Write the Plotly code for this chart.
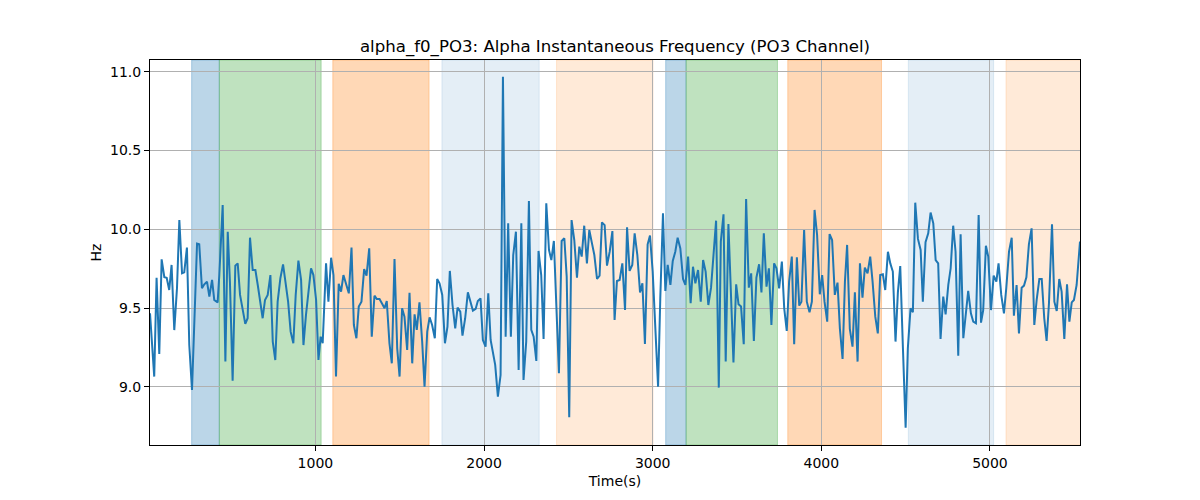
import plotly.graph_objects as go

# ---- data ----
times = [
    19, 44, 58, 74, 88, 104, 118, 124, 133, 147, 163, 179, 193, 209, 222, 238, 252, 268, 282, 298,
    311, 327, 341, 357, 371, 387, 400, 420, 430, 450, 466, 480, 493, 509, 525, 539, 553, 569, 584, 598,
    612, 628, 644, 658, 671, 687, 701, 717, 733, 747, 762, 776, 792, 808, 822, 838, 853, 869, 883, 899,
    915, 929, 944, 958, 974, 988, 1004, 1018, 1031, 1043, 1063, 1077, 1093, 1107, 1122, 1138,
    1152, 1166, 1182, 1198, 1214, 1228, 1243, 1257, 1273, 1289, 1303, 1319, 1334, 1350, 1364, 1380, 1394, 1410, 1423, 1439,
    1453, 1469, 1485, 1499, 1514, 1528, 1544, 1558, 1574, 1588, 1601, 1617, 1633, 1647, 1663, 1677, 1692, 1708, 1722, 1736,
    1752, 1768, 1783, 1797, 1813, 1829, 1843, 1859, 1872, 1888, 1904, 1918, 1934, 1950, 1963, 1979, 1993, 2009, 2025, 2039,
    2052, 2066, 2082, 2098, 2112, 2128, 2143, 2159, 2173, 2189, 2205, 2221, 2234, 2250, 2266,
    2280, 2294, 2310, 2323, 2339, 2353, 2369, 2385, 2399, 2414, 2428, 2444, 2460, 2476, 2490, 2505, 2519, 2535, 2551, 2565,
    2579, 2594, 2610, 2624, 2640, 2654, 2670, 2685, 2699, 2715, 2729, 2745, 2761, 2774, 2788, 2804, 2820, 2836, 2848, 2863,
    2879, 2893, 2909, 2925, 2939, 2954, 2970, 2984, 3000, 3016, 3032, 3045, 3061, 3075, 3089, 3105, 3119, 3134, 3148, 3164,
    3180, 3194, 3210, 3225, 3239, 3253, 3269, 3285, 3299, 3314, 3330, 3346, 3360, 3376, 3392,
    3404, 3420, 3433, 3449, 3463, 3479, 3495, 3509, 3524, 3540, 3554, 3570, 3584, 3600, 3615, 3631, 3645, 3659, 3675, 3689,
    3704, 3720, 3734, 3750, 3766, 3780, 3795, 3809, 3825, 3839, 3855, 3869, 3882, 3898, 3914, 3930, 3944, 3960, 3975, 3991,
    4005, 4019, 4035, 4049, 4064, 4080, 4096, 4110, 4126, 4140, 4153, 4169, 4185, 4199, 4215, 4229, 4244, 4258, 4274, 4290,
    4304, 4320, 4335, 4349, 4365, 4379, 4395, 4409, 4424, 4440, 4454, 4468, 4484, 4500, 4513,
    4529, 4543, 4557, 4573, 4589, 4602, 4618, 4634, 4648, 4664, 4678, 4693, 4707, 4723, 4737, 4753, 4767, 4782, 4796, 4812,
    4826, 4842, 4858, 4871, 4887, 4901, 4917, 4933, 4947, 4960, 4976, 4990, 5006, 5022, 5038, 5051, 5067, 5083, 5097, 5113,
    5129, 5142, 5158, 5172, 5188, 5202, 5216, 5231, 5247, 5263, 5277, 5293, 5307, 5322, 5336, 5350, 5368, 5382, 5396, 5411,
    5425, 5441, 5457, 5471, 5485, 5498, 5514, 5534,
]

freq_hz = [
    9.467, 9.066, 9.693, 9.209, 9.810, 9.696, 9.693, 9.658, 9.615, 9.774, 9.361, 9.626, 10.059, 9.721, 9.727, 9.884, 9.266, 8.981, 9.414, 9.909,
    9.905, 9.626, 9.651, 9.668, 9.573, 9.679, 9.552, 9.537, 9.710, 10.154, 9.161, 9.985, 9.668, 9.040, 9.770, 9.784, 9.584, 9.478, 9.400, 9.436,
    9.947, 9.742, 9.742, 9.647, 9.562, 9.436, 9.552, 9.584, 9.710, 9.288, 9.171, 9.541, 9.689, 9.778, 9.668, 9.541, 9.351, 9.277, 9.584, 9.801,
    9.679, 9.266, 9.457, 9.615, 9.753, 9.710, 9.552, 9.171, 9.319, 9.277, 9.784, 9.541, 9.820, 9.710, 9.066, 9.655,
    9.605, 9.710, 9.647, 9.594, 9.884, 9.393, 9.309, 9.510, 9.541, 9.748, 9.706, 9.879, 9.319, 9.579, 9.558, 9.558, 9.531, 9.499, 9.545, 9.277,
    9.150, 9.812, 9.245, 9.066, 9.499, 9.446, 9.235, 9.598, 9.150, 9.461, 9.362, 9.537, 9.288, 9.002, 9.351, 9.442, 9.393, 9.309, 9.685, 9.658,
    9.584, 9.277, 9.383, 9.736, 9.520, 9.372, 9.503, 9.478, 9.326, 9.436, 9.600, 9.541, 9.484, 9.495, 9.545, 9.562, 9.298, 9.256, 9.594, 9.298,
    9.224, 9.140, 8.939, 9.076, 10.968, 9.319, 10.038, 9.319, 9.837, 9.985, 9.108, 10.038, 9.044, 9.288, 10.180,
    9.362, 9.319, 9.165, 9.863, 9.710, 9.304, 10.165, 9.869, 9.805, 9.926, 9.584, 9.087, 9.926, 9.943, 9.700, 8.808, 10.059, 9.932, 9.693, 9.890,
    9.827, 10.023, 9.784, 9.996, 9.911, 9.837, 9.685, 9.706, 10.044, 10.027, 9.770, 9.858, 9.989, 9.425, 9.672, 9.679, 9.784, 9.488, 10.013, 9.736,
    9.774, 9.975, 9.837, 9.600, 9.658, 9.273, 9.905, 9.960, 9.732, 9.330, 9.002, 9.562, 10.101, 9.609, 9.774, 9.647, 9.799, 9.858, 9.947, 9.879,
    9.685, 9.647, 9.827, 9.531, 9.763, 9.658, 9.742, 9.541, 9.805, 9.732, 9.520, 9.630, 9.858, 10.055, 8.996,
    9.922, 10.095, 9.161, 10.034, 9.626, 9.156, 9.651, 9.524, 9.510, 9.271, 10.192, 9.630, 9.721, 9.292, 9.693, 9.778, 9.600, 9.975, 9.636, 9.753,
    9.393, 9.784, 9.753, 9.626, 9.795, 9.499, 9.355, 9.668, 9.827, 9.271, 9.822, 9.516, 9.541, 9.996, 9.541, 9.474, 9.541, 10.123, 9.964, 9.588,
    9.710, 9.541, 9.414, 9.970, 9.932, 9.584, 9.662, 9.372, 9.178, 9.668, 9.901, 9.368, 9.256, 9.600, 9.161, 9.784, 9.567, 9.757, 9.721, 9.827,
    9.668, 9.446, 9.340, 9.710, 9.715, 9.615, 9.858, 9.784, 9.732, 9.288, 9.600, 9.767, 9.245, 8.742, 9.245,
    9.499, 9.474, 10.169, 9.939, 9.869, 9.541, 9.918, 9.975, 10.106, 10.038, 9.805, 9.784, 9.304, 9.573, 9.461, 9.647, 9.753, 10.023, 9.858, 9.199,
    9.968, 9.309, 9.499, 9.609, 9.467, 9.414, 9.404, 10.091, 9.408, 9.488, 9.896, 9.827, 9.488, 9.706, 9.668, 9.784, 9.584, 9.467, 9.630, 9.858,
    9.947, 9.452, 9.647, 9.340, 9.630, 9.643, 9.696, 9.905, 10.006, 9.393, 9.552, 9.685, 9.685, 9.436, 9.292, 9.531, 10.032, 9.541, 9.482, 9.685,
    9.605, 9.304, 9.651, 9.414, 9.537, 9.552, 9.647, 9.922,
]

span_start = [266, 430, 1103, 1750, 2430, 3077, 3198, 3801, 4516, 5095]
span_end = [430, 1034, 1674, 2327, 3002, 3198, 3740, 4357, 5022, 5540]
span_kind = ["blue", "green", "orange", "lightblue", "lightorange",
             "blue", "green", "orange", "lightblue", "lightorange"]

x_ticks = [1000, 2000, 3000, 4000, 5000]
y_ticks = [9.0, 9.5, 10.0, 10.5, 11.0]
y_tick_labels = ["9.0", "9.5", "10.0", "10.5", "11.0"]

# ---- styles ----
kind_style = {
    "blue": "rgba(31,119,180,0.3)",
    "green": "rgba(44,160,44,0.3)",
    "orange": "rgba(255,127,14,0.3)",
    "lightblue": "rgba(31,119,180,0.12)",
    "lightorange": "rgba(255,127,14,0.16)",
}

n = min(len(times), len(freq_hz))
fig = go.Figure()
fig.add_trace(go.Scatter(
    x=times[:n], y=freq_hz[:n], mode="lines",
    line=dict(color="#1f77b4", width=2), showlegend=False,
))

for s, e, k in zip(span_start, span_end, span_kind):
    fig.add_shape(type="rect", xref="x", yref="paper", x0=s, x1=e, y0=0, y1=1,
                  fillcolor=kind_style[k], line=dict(width=1, color=kind_style[k]),
                  layer="below")

font = "DejaVu Sans, Arial, sans-serif"
fig.update_layout(
    width=1200, height=500,
    margin=dict(l=142, r=128, t=52, b=63),
    paper_bgcolor="white", plot_bgcolor="white",
    font=dict(family=font, size=14, color="black"),
    title=dict(text="alpha_f0_PO3: Alpha Instantaneous Frequency (PO3 Channel)",
               x=0.5, xref="paper", xanchor="center",
               y=0.924, yref="container", yanchor="middle",
               font=dict(size=16.6, family=font, color="black")),
    showlegend=False,
)
fig.update_xaxes(
    range=[times[0], times[n - 1]],
    tickvals=x_ticks, ticks="outside", ticklen=5, tickwidth=1, tickcolor="black",
    showgrid=True, gridcolor="#b0b0b0", gridwidth=1,
    showline=True, linecolor="black", linewidth=1, mirror=True,
    zeroline=False, tickfont=dict(size=14),
    title=dict(text="Time(s)", standoff=6, font=dict(size=14)),
)
fig.update_yaxes(
    range=[8.632, 11.074],
    tickvals=y_ticks, ticktext=y_tick_labels,
    ticks="outside", ticklen=5, tickwidth=1, tickcolor="black",
    showgrid=True, gridcolor="#b0b0b0", gridwidth=1,
    showline=True, linecolor="black", linewidth=1, mirror=True,
    zeroline=False, tickfont=dict(size=14),
    title=dict(text="Hz", standoff=5, font=dict(size=14)),
)

fig.write_html("out.html")
